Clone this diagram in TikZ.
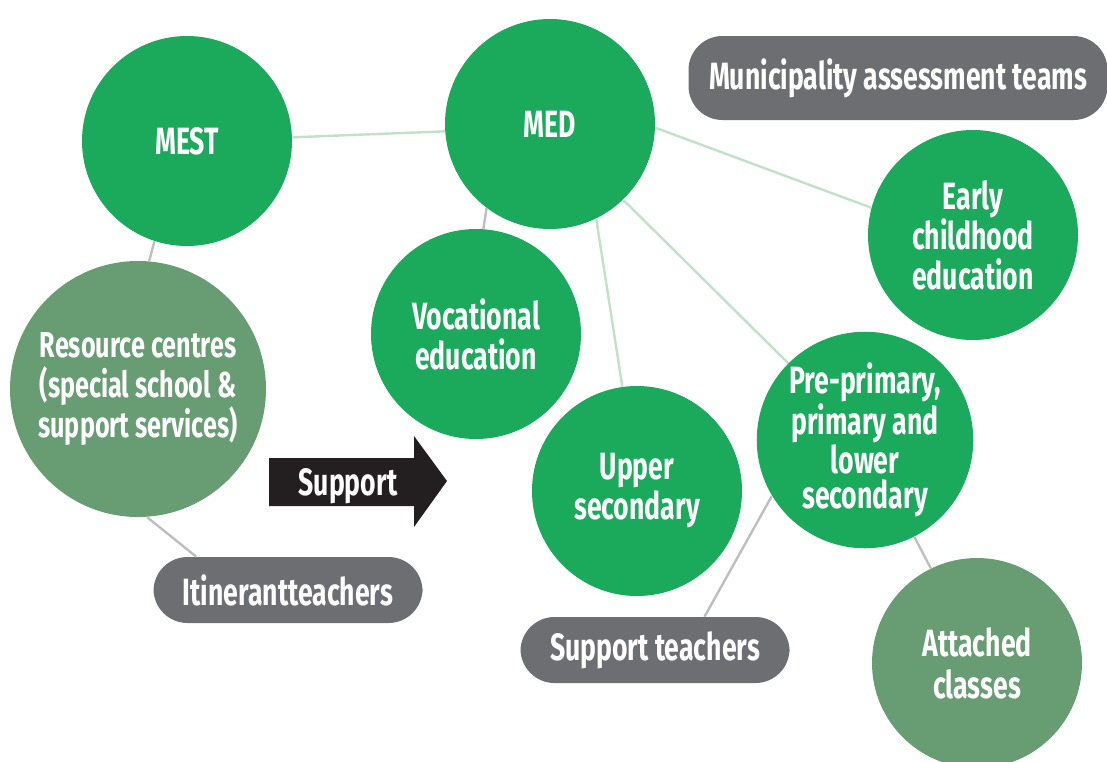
\documentclass[tikz,border=0pt]{standalone}
\usepackage{fontspec}
\setmainfont[FakeStretch=0.7]{Fira Sans}
\usetikzlibrary{positioning}
\definecolor{medgreen}{HTML}{1BAA5C}
\definecolor{mutedgreen}{HTML}{689D73}
\definecolor{boxgrey}{HTML}{6D6E71}
\definecolor{paleline}{HTML}{C3E1C8}
\definecolor{greyline}{HTML}{BCBEC0}
\definecolor{arrowblack}{HTML}{231F20}
\tikzset{
    lbl/.style={text=white, font=\fontsize{19}{20}\selectfont\bfseries, align=center},
    bubble/.style={lbl, circle, fill=medgreen, inner sep=0pt, minimum size=105pt},
    softbubble/.style={bubble, fill=mutedgreen},
    pill/.style={lbl, rectangle, rounded corners=17pt, fill=boxgrey, inner sep=0pt, minimum height=33pt, minimum width=134.5pt},
    paleedge/.style={draw=paleline, line width=1.2pt},
    greyedge/.style={draw=greyline, line width=1.2pt}
}

\begin{document}
\begin{tikzpicture}[x=0.5pt, y=-0.5pt]
    \useasboundingbox (0,0) rectangle (1107,761);
    % ministries
    \node[bubble] (mest) at (187,141) {MEST};
    \node[bubble] (med) at (550,124) {MED};
    % levels of education
    \node[bubble] (early) at (973,235) {Early\\childhood\\education};
    \node[bubble] (voc) at (476,334) {Vocational\\education};
    \node[bubble] (upper) at (637,491) {Upper\\secondary};
    \node[bubble, font=\fontsize{19}{17.5}\selectfont\bfseries] (pre) at (865,440) {Pre-primary,\\primary and\\lower\\secondary};
    % support structures
    \node[softbubble, minimum size=128pt, font=\fontsize{18}{20}\selectfont\bfseries] (res) at (138,389) {Resource centres\\(special school \&\\support services)};
    \node[softbubble, font=\fontsize{19}{21}\selectfont\bfseries] (att) at (977,663) {Attached\\classes};
    \node[pill, minimum width=209.5pt, minimum height=42pt] (mun) at (898,78) {Municipality assessment teams};
    \node[pill] (itin) at (288,590) {Itinerantteachers};
    \node[pill] (supt) at (655,650) {Support teachers};
    % support arrow
    \fill[arrowblack] (269,458) -- (414,458) -- (414,436) -- (447,481) -- (414,527) -- (414,506) -- (269,506) -- cycle;
    \node[lbl] (sup) at (348,486) {Support};
    % links
    \draw[paleedge] (mest.2) -- (med.184);
    \draw[paleedge] (med.-2) -- (early.165);
    \draw[paleedge] (med.-64) -- (upper.98);
    \draw[paleedge] (med.-46.5) -- (pre.135);
    \draw[greyedge] (med.-127.5) -- (voc.86);
    \draw[greyedge] (mest.-108.6) -- (res.85.5);
    \draw[greyedge] (res.-86) -- (itin.160);
    \draw[greyedge] (pre.-149) -- (supt.34.5);
    \draw[greyedge] (pre.-63) -- (att.116);
\end{tikzpicture}
\end{document}
